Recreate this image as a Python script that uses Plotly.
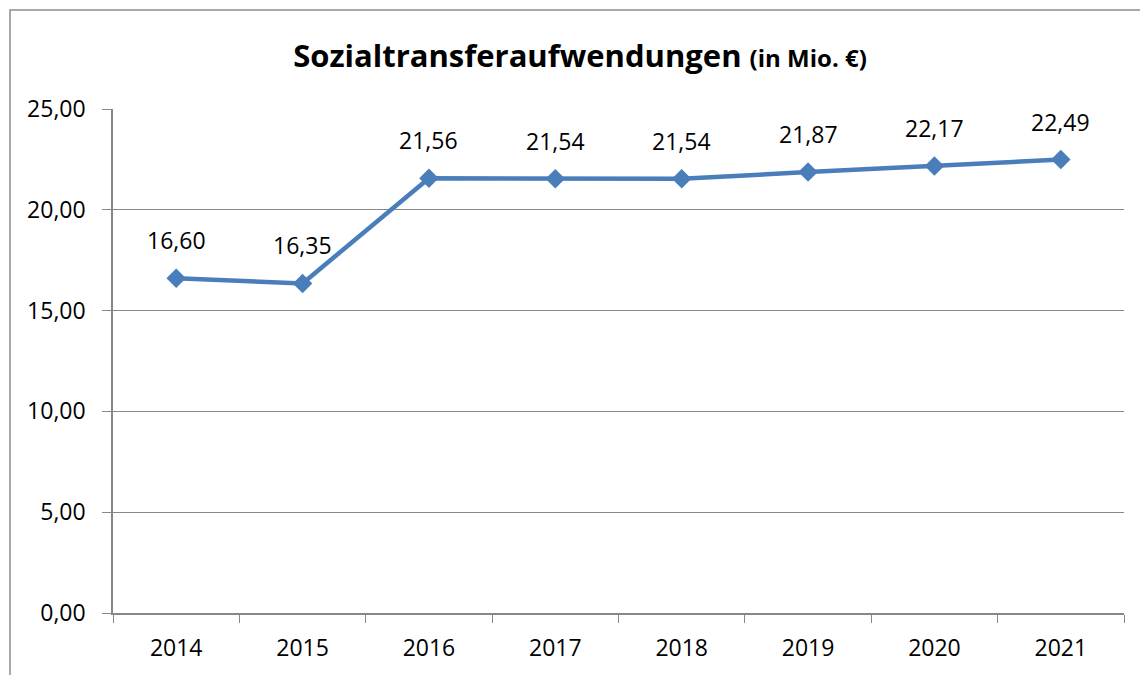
import plotly.graph_objects as go

years = ["2014", "2015", "2016", "2017", "2018", "2019", "2020", "2021"]
values = [16.60, 16.35, 21.56, 21.54, 21.54, 21.87, 22.17, 22.49]
y_ticks = [0, 5, 10, 15, 20, 25]

LINE = "#4A7EBB"
GRID = "#888888"
FONT = "Open Sans"

# page has an 8px body margin; figure sized to fit the 1148x675 window
W, H = 1140, 667
L, R, T, B = 105, 24, 101, 62
pw, ph = W - L - R, H - T - B

fig = go.Figure()
fig.add_trace(go.Scatter(
    x=years, y=values, mode="lines+markers",
    line=dict(color=LINE, width=4.5),
    marker=dict(symbol="diamond", size=15, color=LINE),
    hoverinfo="skip", showlegend=False,
))

for i, v in enumerate(values):
    fig.add_annotation(
        x=i, y=v, xref="x", yref="y",
        text=f"{v:.2f}".replace(".", ","),
        showarrow=False, yanchor="bottom", yshift=20,
        font=dict(family=FONT, size=23, color="#000000"),
    )

# outer chart border
fig.add_shape(
    type="rect", xref="paper", yref="paper",
    x0=(2 - L) / pw, x1=(W + 30 - L) / pw,
    y0=-(B + 20) / ph, y1=(ph + T - 2) / ph,
    line=dict(color="#8C8C8C", width=1.5), layer="below",
)

fig.update_layout(
    width=W, height=H,
    margin=dict(l=L, r=R, t=T, b=B),
    paper_bgcolor="white", plot_bgcolor="white",
    separators=",.",
    font=dict(family=FONT, size=23, color="#000000"),
    title=dict(
        text="<b>Sozialtransferaufwendungen</b> <b><span style='font-size:24px'>(in Mio. €)</span></b>",
        x=572 / W, xref="container", xanchor="center",
        y=1 - 48 / H, yref="container", yanchor="middle",
        font=dict(family=FONT, size=31, color="#000000"),
    ),
    xaxis=dict(
        type="category", tickson="boundaries", ticks="outside", ticklen=8,
        tickcolor=GRID, showline=True, linecolor=GRID, linewidth=1.5,
        showgrid=False, range=[-0.5, 7.5], ticklabelstandoff=14,
        tickfont=dict(family=FONT, size=23),
    ),
    yaxis=dict(
        range=[0, 25], tickvals=y_ticks, tickformat=".2f",
        ticks="outside", ticklen=9, tickcolor=GRID,
        showline=True, linecolor=GRID, linewidth=1.5,
        showgrid=True, gridcolor=GRID, gridwidth=1.3,
        zeroline=False, ticklabelstandoff=12,
        tickfont=dict(family=FONT, size=23),
    ),
)

fig.write_html("out.html")
